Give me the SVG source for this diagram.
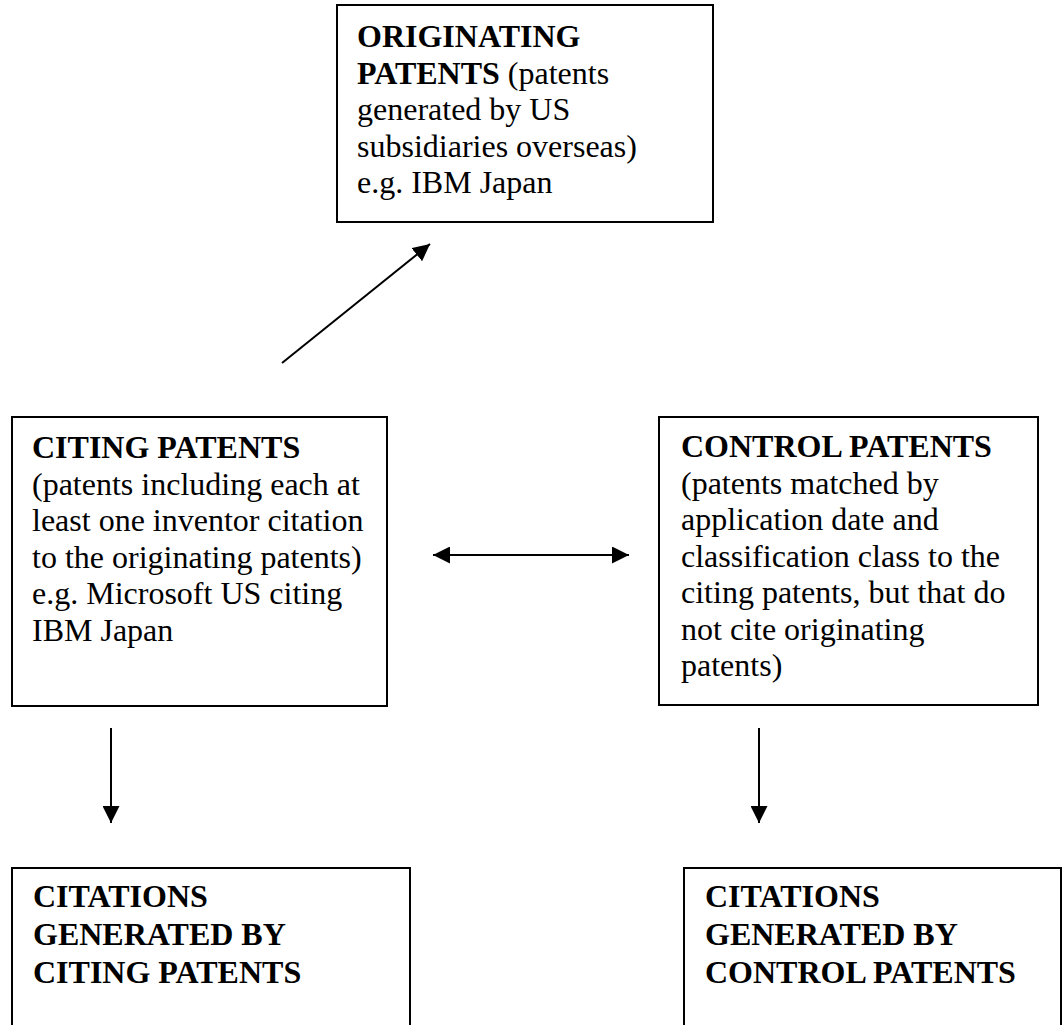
<svg xmlns="http://www.w3.org/2000/svg" width="1062" height="1025" viewBox="0 0 1062 1025">
<style>
.box{fill:#fff;stroke:#000;stroke-width:2}
.t{font-family:"Liberation Serif","Times New Roman",serif;font-size:32px;fill:#000}
.b{font-weight:bold}
.c{stroke:#000;stroke-width:2;fill:none}
</style>
<defs>
<marker id="ah" markerUnits="userSpaceOnUse" markerWidth="18" markerHeight="17" refX="17" refY="8.5" orient="auto-start-reverse" viewBox="0 0 18 17">
<path d="M0,0 L17,8.5 L0,17 z" fill="#000"/>
</marker>
</defs>
<rect width="1062" height="1025" fill="#fff"/>
<g id="connectors">
<line class="c" x1="282" y1="363" x2="430" y2="244" marker-end="url(#ah)"/>
<line class="c" x1="433" y1="555" x2="629" y2="555" marker-start="url(#ah)" marker-end="url(#ah)"/>
<line class="c" x1="111" y1="728" x2="111" y2="823" marker-end="url(#ah)"/>
<line class="c" x1="759" y1="728" x2="759" y2="823" marker-end="url(#ah)"/>
</g>
<g id="originating">
<rect class="box" x="337" y="5" width="376" height="217"/>
<text class="t" x="357" y="47"><tspan class="b">ORIGINATING</tspan></text>
<text class="t" x="357" y="83.5"><tspan class="b">PATENTS</tspan> (patents</text>
<text class="t" x="357" y="120">generated by US</text>
<text class="t" x="357" y="156.5">subsidiaries overseas)</text>
<text class="t" x="357" y="193">e.g. IBM Japan</text>
</g>
<g id="citing">
<rect class="box" x="12" y="417" width="375" height="289"/>
<text class="t" x="32" y="458"><tspan class="b">CITING PATENTS</tspan></text>
<text class="t" x="32" y="494.5">(patents including each at</text>
<text class="t" x="32" y="531">least one inventor citation</text>
<text class="t" x="32" y="567.5">to the originating patents)</text>
<text class="t" x="32" y="604">e.g. Microsoft US citing</text>
<text class="t" x="32" y="640.5">IBM Japan</text>
</g>
<g id="control">
<rect class="box" x="659" y="417" width="379" height="288"/>
<text class="t" x="681" y="457"><tspan class="b">CONTROL PATENTS</tspan></text>
<text class="t" x="681" y="493.5">(patents matched by</text>
<text class="t" x="681" y="530">application date and</text>
<text class="t" x="681" y="566.5">classification class to the</text>
<text class="t" x="681" y="603">citing patents, but that do</text>
<text class="t" x="681" y="639.5">not cite originating</text>
<text class="t" x="681" y="676">patents)</text>
</g>
<g id="citing-citations">
<rect class="box" x="12" y="868" width="398" height="200"/>
<text class="t b" x="33" y="907">CITATIONS</text>
<text class="t b" x="33" y="945">GENERATED BY</text>
<text class="t b" x="33" y="983">CITING PATENTS</text>
</g>
<g id="control-citations">
<rect class="box" x="684" y="868" width="377" height="200"/>
<text class="t b" x="705" y="907">CITATIONS</text>
<text class="t b" x="705" y="945">GENERATED BY</text>
<text class="t b" x="705" y="983">CONTROL PATENTS</text>
</g>
</svg>
